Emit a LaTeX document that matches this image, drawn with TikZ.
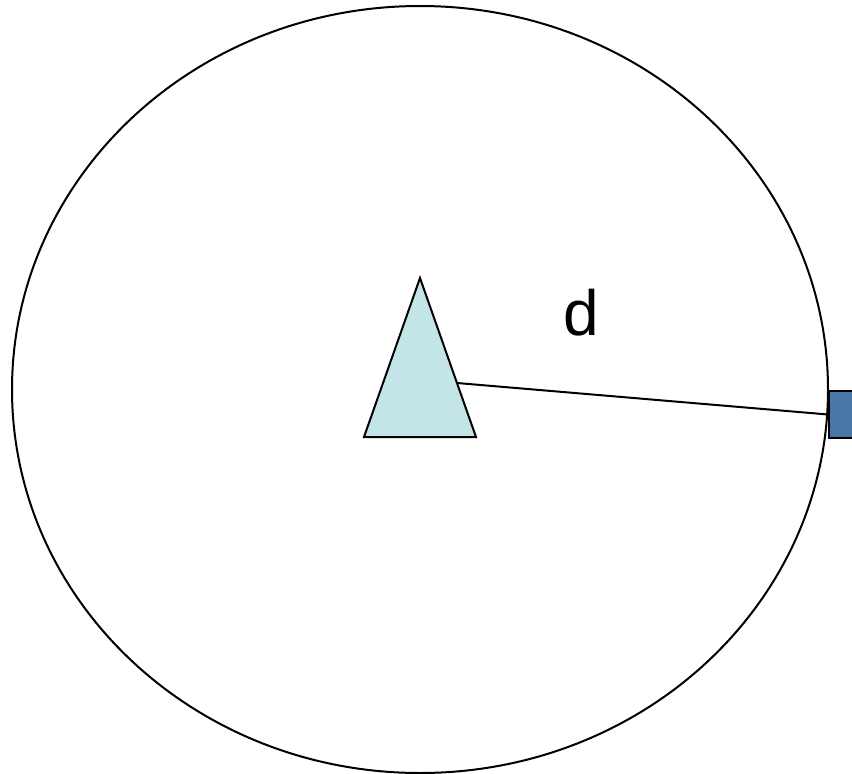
\documentclass[tikz,border=0pt]{standalone}
\usepackage{fontspec}
\setmainfont{Liberation Sans}
\usetikzlibrary{shapes.geometric}
\definecolor{apcyan}{HTML}{C4E5E8}
\definecolor{nodeblue}{HTML}{4A76A8}
\begin{document}
\begin{tikzpicture}[x=1pt, y=-1pt, line width=2pt]
    \useasboundingbox (0,0) rectangle (852,774);
    \clip (0,0) rectangle (852,774);

    \node[draw, ellipse, inner sep=0pt, minimum width=816, minimum height=767] (range) at (420,389.5) {};

    \coordinate (apex) at (420,278);
    \coordinate (baseL) at (364,437);
    \coordinate (baseR) at (476,437);
    \filldraw[fill=apcyan, line join=miter] (apex) -- (baseR) -- (baseL) -- cycle;
    \coordinate (tx) at (457,383);

    \node[draw, fill=nodeblue, inner sep=0pt, anchor=north west, minimum width=44, minimum height=47] (station) at (828,390) {};
    \draw (tx) -- (station.west);

    \node at (581,335) [anchor=base, font=\fontsize{64}{64}\selectfont] (dist) {d};
\end{tikzpicture}
\end{document}
